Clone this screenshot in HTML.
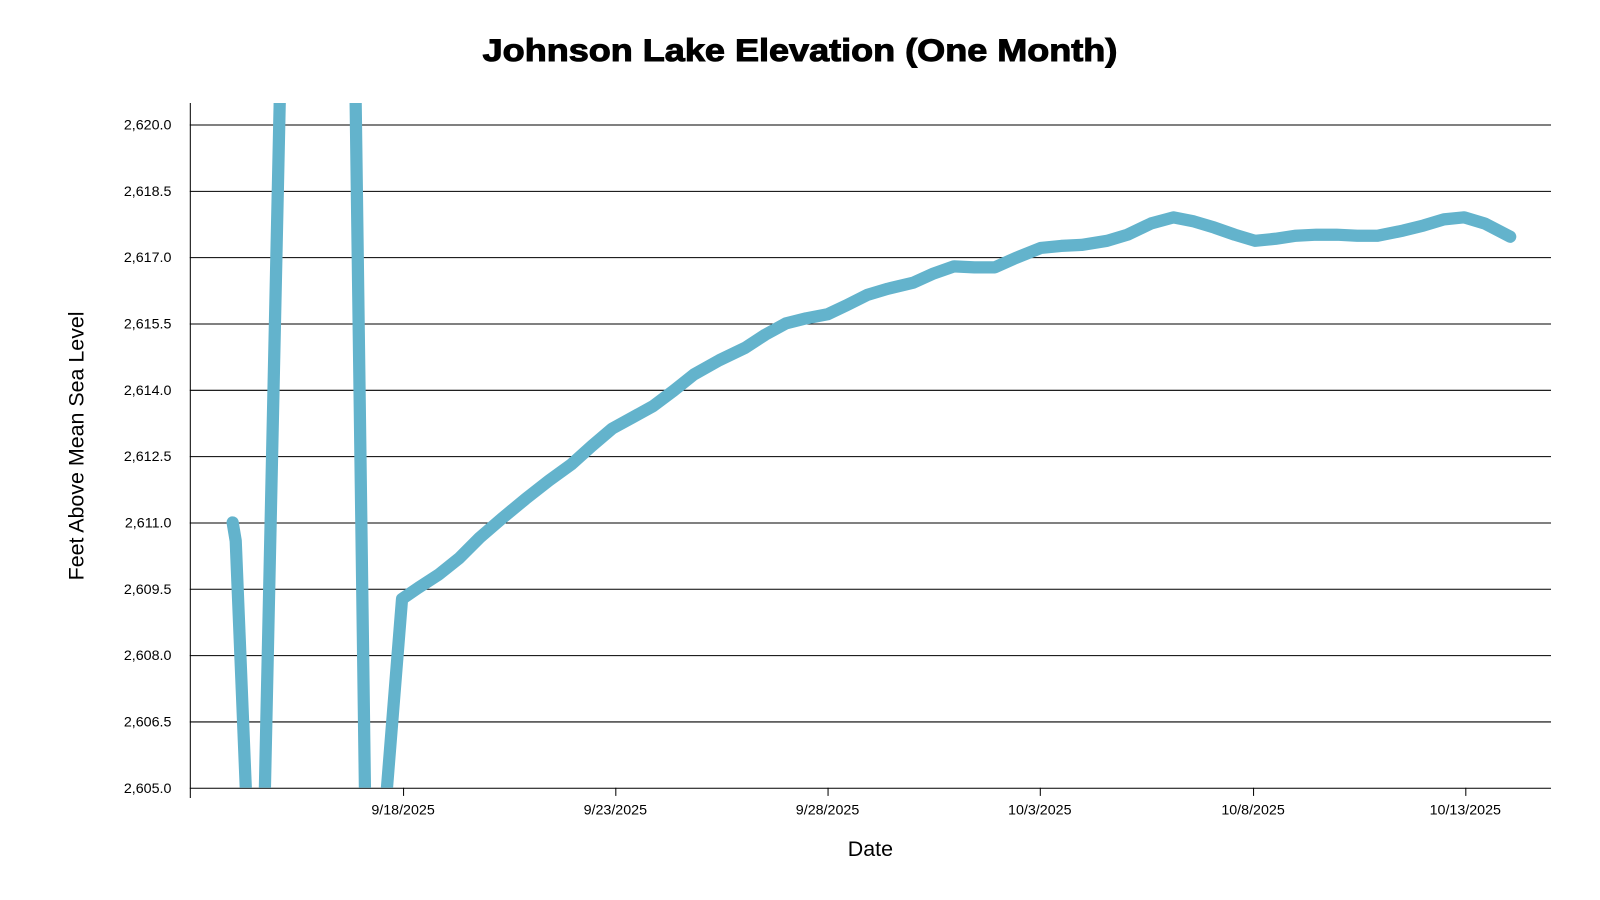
<!DOCTYPE html>
<html><head><meta charset="utf-8"><style>
html,body{margin:0;padding:0;background:#fff;}
svg{display:block;font-family:"Liberation Sans",Arial,sans-serif;}
</style></head><body>
<svg width="1600" height="900" viewBox="0 0 1600 900">
<defs><clipPath id="c"><rect x="186" y="101" width="1334" height="671"/></clipPath></defs>
<g transform="scale(1.0204)">
<text x="784" y="60" text-anchor="middle" font-size="31" font-weight="bold" stroke="#000" stroke-width="1" textLength="622" lengthAdjust="spacingAndGlyphs">Johnson Lake Elevation (One Month)</text>
<g stroke="#000" stroke-width="1">
<line x1="186" y1="122.5" x2="1520" y2="122.5"/>
<line x1="186" y1="187.5" x2="1520" y2="187.5"/>
<line x1="186" y1="252.5" x2="1520" y2="252.5"/>
<line x1="186" y1="317.5" x2="1520" y2="317.5"/>
<line x1="186" y1="382.5" x2="1520" y2="382.5"/>
<line x1="186" y1="447.5" x2="1520" y2="447.5"/>
<line x1="186" y1="512.5" x2="1520" y2="512.5"/>
<line x1="186" y1="577.5" x2="1520" y2="577.5"/>
<line x1="186" y1="642.5" x2="1520" y2="642.5"/>
<line x1="186" y1="707.5" x2="1520" y2="707.5"/>
<line x1="186" y1="772.5" x2="1520" y2="772.5"/>
<line x1="186.5" y1="101" x2="186.5" y2="782"/>
<line x1="395.5" y1="772" x2="395.5" y2="780"/>
<line x1="603.5" y1="772" x2="603.5" y2="780"/>
<line x1="811.5" y1="772" x2="811.5" y2="780"/>
<line x1="1019.5" y1="772" x2="1019.5" y2="780"/>
<line x1="1228.5" y1="772" x2="1228.5" y2="780"/>
<line x1="1436.5" y1="772" x2="1436.5" y2="780"/>
</g>
<g font-size="14" text-anchor="end" fill="#000">
<text x="168" y="127">2,620.0</text><text x="168" y="192">2,618.5</text><text x="168" y="257">2,617.0</text>
<text x="168" y="322">2,615.5</text><text x="168" y="387">2,614.0</text><text x="168" y="452">2,612.5</text>
<text x="168" y="517">2,611.0</text><text x="168" y="582">2,609.5</text><text x="168" y="647">2,608.0</text>
<text x="168" y="712">2,606.5</text><text x="168" y="777">2,605.0</text>
</g>
<g font-size="14" text-anchor="middle" fill="#000">
<text x="395" y="798">9/18/2025</text><text x="603" y="798">9/23/2025</text><text x="811" y="798">9/28/2025</text>
<text x="1019" y="798">10/3/2025</text><text x="1228" y="798">10/8/2025</text><text x="1436" y="798">10/13/2025</text>
</g>
<text x="853" y="839" text-anchor="middle" font-size="21">Date</text>
<text transform="translate(82,437) rotate(-90)" text-anchor="middle" font-size="21">Feet Above Mean Sea Level</text>
<g clip-path="url(#c)">
<polyline fill="none" stroke="#63b3cc" stroke-width="12" stroke-linejoin="round" stroke-linecap="round"
points="228,512 231,530 242,800 259,800 275,60 348,60 358,800 377,800 394,587 410,576 430,563 450,547 470,527 492,508 515,489 538,471 560,455 580,437 600,420 620,409 640,398 660,383 680,367 705,353 730,341 750,328 770,317 790,312 811,308 830,299 850,289 870,283 895,277 915,268 935,261 955,262 975,262 995,253 1020,243 1040,241 1060,240 1085,236 1105,230 1128,219 1150,213 1170,217 1190,223 1210,230 1230,236 1250,234 1270,231 1290,230 1310,230 1330,231 1350,231 1375,226 1395,221 1415,215 1435,213 1455,219 1480,232"/>
</g>
</g>
</svg>
</body></html>
